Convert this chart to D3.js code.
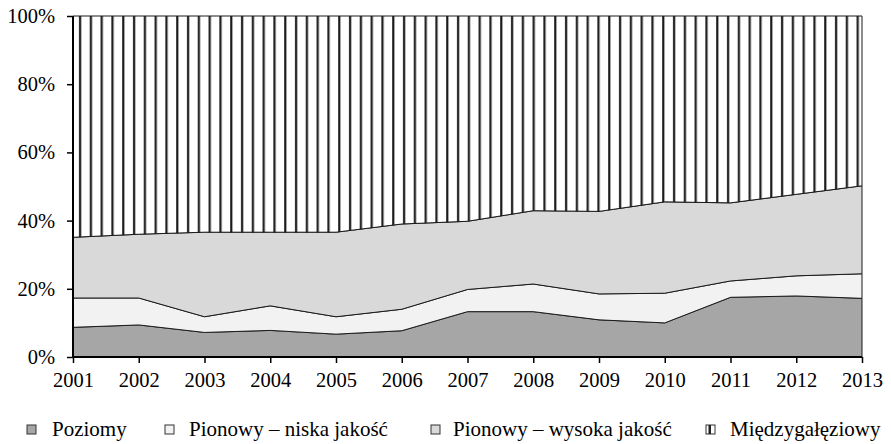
<!DOCTYPE html>
<html>
<head>
<meta charset="utf-8">
<script src="https://cdn.jsdelivr.net/npm/d3@7"></script>
</head>
<body style="margin:0">
<svg width="891" height="444" font-family="Liberation Serif" font-size="20.5"></svg>
<script>
// shares in %
var years = [2001, 2002, 2003, 2004, 2005, 2006, 2007, 2008, 2009, 2010, 2011, 2012, 2013];
var poziomy = [8.7, 9.4, 7.2, 7.8, 6.7, 7.7, 13.3, 13.3, 10.9, 10.0, 17.5, 17.9, 17.2];
var niska   = [8.6, 7.9, 4.6, 7.2, 5.1, 6.3, 6.5, 8.1, 7.6, 8.7, 4.8, 5.9, 7.2];
var wysoka  = [17.8, 18.7, 24.8, 21.6, 24.8, 25.0, 20.0, 21.5, 24.2, 26.8, 22.9, 23.9, 25.8];
var miedzy  = [64.9, 64.0, 63.4, 63.4, 63.4, 61.0, 60.2, 57.1, 57.3, 54.5, 54.8, 52.3, 49.8];
var yTicks = [0, 0.2, 0.4, 0.6, 0.8, 1];

var keys = ["Poziomy", "Pionowy \u2013 niska jako\u015b\u0107", "Pionowy \u2013 wysoka jako\u015b\u0107", "Mi\u0119dzyga\u0142\u0119ziowy"];
var fills = ["#a6a6a6", "#f2f2f2", "#d9d9d9", "url(#stripes)"];

var rows = years.map(function(y, i) {
    var r = { year: y };
    r[keys[0]] = poziomy[i];
    r[keys[1]] = niska[i];
    r[keys[2]] = wysoka[i];
    r[keys[3]] = miedzy[i];
    return r;
});

var svg = d3.select("svg"),
    margin = { top: 16, right: 29, bottom: 87, left: 73 },
    width = +svg.attr("width") - margin.left - margin.right,
    height = +svg.attr("height") - margin.top - margin.bottom;

var defs = svg.append("defs");
var pat = defs.append("pattern")
    .attr("id", "stripes")
    .attr("patternUnits", "userSpaceOnUse")
    .attr("width", 10.8)
    .attr("height", 10);
pat.append("rect").attr("width", 10.8).attr("height", 10).attr("fill", "#fff");
pat.append("rect").attr("x", 6).attr("width", 2.2).attr("height", 10).attr("fill", "#1a1a1a");

var g = svg.append("g").attr("transform", "translate(" + margin.left + "," + margin.top + ")");

var x = d3.scaleLinear().domain(d3.extent(years)).range([0, width]);
var y = d3.scaleLinear().domain([0, 1]).range([height, 0]);

var series = d3.stack().keys(keys).offset(d3.stackOffsetExpand)(rows);

var area = d3.area()
    .x(function(d) { return x(d.data.year); })
    .y0(function(d) { return y(d[0]); })
    .y1(function(d) { return y(d[1]); });

g.selectAll("path.layer")
    .data(series)
    .enter().append("path")
        .attr("class", "layer")
        .attr("d", area)
        .attr("fill", function(d, i) { return fills[i]; })
        .attr("stroke", "#1a1a1a")
        .attr("stroke-width", 1);

// axes
var yAxis = g.append("g")
    .call(d3.axisLeft(y).tickValues(yTicks).tickFormat(d3.format(".0%")).tickSize(6).tickPadding(12));
var xAxis = g.append("g")
    .attr("transform", "translate(0," + height + ")")
    .call(d3.axisBottom(x).tickValues(years).tickFormat(d3.format("d")).tickSize(6).tickPadding(9));

[yAxis, xAxis].forEach(function(a) {
    a.attr("font-family", null).attr("font-size", null);
    a.select(".domain").attr("stroke", "#000").attr("stroke-width", 2);
    a.selectAll(".tick line").attr("stroke", "#000").attr("stroke-width", 1.5);
    a.selectAll("text").attr("fill", "#000");
});
yAxis.select(".domain").attr("d", "M0," + height + "V0");
xAxis.select(".domain").attr("d", "M0,0H" + width);

// legend
var legendX = [27, 165, 431, 706];
var legendTextX = [52, 189, 453, 730];
var legend = svg.append("g");
var item = legend.selectAll("g")
    .data(keys)
    .enter().append("g");

item.append("rect")
    .attr("x", function(d, i) { return legendX[i]; })
    .attr("y", 425)
    .attr("width", 9).attr("height", 9)
    .attr("fill", function(d, i) { return i === 3 ? "#fff" : fills[i]; })
    .attr("stroke", "#333").attr("stroke-width", 1);
item.filter(function(d, i) { return i === 3; })
    .append("rect")
    .attr("x", function() { return legendX[3] + 2.5; })
    .attr("y", 425).attr("width", 2.5).attr("height", 9).attr("fill", "#222");

item.append("text")
    .attr("x", function(d, i) { return legendTextX[i]; })
    .attr("y", 436)
    .attr("font-size", 21)
    .attr("fill", "#000")
    .text(function(d) { return d; });
</script>
</body>
</html>
